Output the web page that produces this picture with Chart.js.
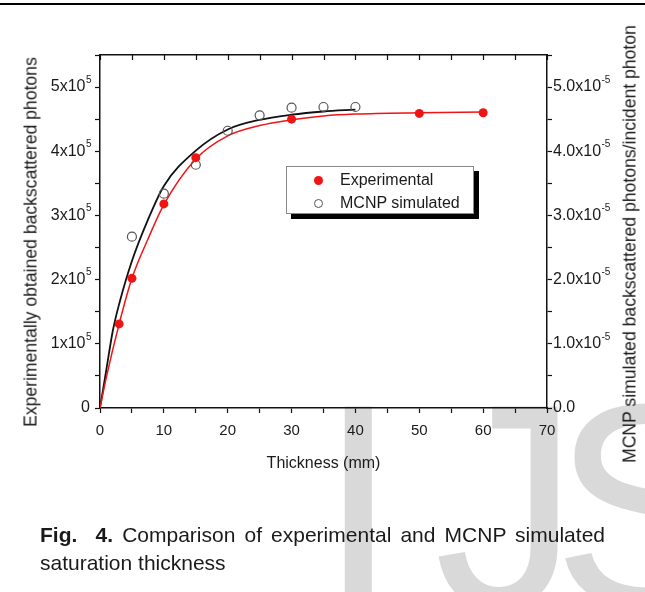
<!DOCTYPE html>
<html>
<head>
<meta charset="utf-8">
<script src="https://cdn.jsdelivr.net/npm/chart.js@4.4.1/dist/chart.umd.min.js"></script>
<style>
  html, body { margin: 0; padding: 0; background: #fff; }
  body { width: 645px; height: 592px; position: relative; overflow: hidden;
         font-family: "Liberation Sans", Arial, sans-serif; color: #1a1a1a; }
  #topRule { position: absolute; left: 0; top: 3px; width: 645px; height: 2px; background: #000; }
  .mark { position: absolute; top: 360px; font-size: 290px; line-height: 1;
          color: #d9d9d9; white-space: nowrap; z-index: 0; }
  #wrap { position: absolute; left: 0; top: 0; width: 645px; height: 592px; z-index: 1; }
  .vtitle { position: absolute; white-space: nowrap; font-size: 17.6px; z-index: 2;
            transform: translate(-50%, -50%) rotate(-90deg); }
  #legend { position: absolute; left: 286px; top: 166px; width: 186px; height: 46px;
            border: 1px solid #888; background: #fff; box-shadow: 5px 5px 0 0 #000; z-index: 3; }
  .item { position: absolute; left: 0; width: 186px; height: 20px; font-size: 16px; line-height: 20px; white-space: nowrap; }
  .dot { position: absolute; width: 9px; height: 9px; border-radius: 50%; box-sizing: border-box; }
  #caption { position: absolute; left: 40px; top: 521px; width: 565px; font-size: 21px;
             line-height: 28px; text-align: justify; z-index: 2; }
</style>
</head>
<body>
<div id="topRule"></div>
<div class="mark" style="left:318px;">I</div>
<div class="mark" style="left:434px;">J</div>
<div class="mark" style="left:552px;">S</div>
<div id="wrap"><canvas id="chart" width="645" height="592"></canvas></div>
<div class="vtitle" style="left:31px; top:242px;">Experimentally obtained backscattered photons</div>
<div class="vtitle" style="left:630px; top:244px;">MCNP simulated backscattered photons/incident photon</div>
<div id="legend"></div>
<div id="caption"><b>Fig.&nbsp; 4.</b> Comparison of experimental and MCNP simulated saturation thickness</div>
<script>
// measured points
const expThickness = [3, 5, 10, 15, 30, 50, 60];
const expCounts = [131000, 202000, 318000, 390000, 450000, 459000, 460000];
const mcnpThickness = [5, 10, 15, 20, 25, 30, 35, 40];
const mcnpRatio = [2.67e-5, 3.34e-5, 3.79e-5, 4.32e-5, 4.56e-5, 4.68e-5, 4.69e-5, 4.69e-5];

// fitted curves
const expFitX = [0, 1, 3, 5, 7.5, 10, 15, 20, 25, 30, 35, 40, 50, 60];
const expFitY = [0, 48000, 131000, 202000, 263000, 317000, 388000, 424000, 440000, 449000, 455000, 458000, 460000, 461000];
const mcnpFitX = [0, 1, 2, 3, 5, 7.5, 10, 15, 20, 25, 30, 35, 40];
const mcnpFitY = [0, 0.6e-5, 1.2e-5, 1.62e-5, 2.29e-5, 2.93e-5, 3.46e-5, 4.01e-5, 4.34e-5, 4.49e-5, 4.57e-5, 4.62e-5, 4.65e-5];

const seriesLabels = ['Experimental', 'MCNP simulated'];
const red = '#f01414';
const grey = '#555';
const ink = '#1a1a1a';
const FONT = '"Liberation Sans", Arial, sans-serif';

const pts = (xs, ys) => xs.map((x, i) => ({ x: x, y: ys[i] }));

Chart.defaults.font.family = FONT;
Chart.defaults.color = ink;

const axisGrid = { display: true, drawOnChartArea: false, drawTicks: true, tickLength: 5, tickColor: '#111', tickWidth: 1.2 };
const axisBorder = { display: true, color: '#111', width: 1.5 };

// y tick labels need a raised exponent, canvas text can't do that by itself
function drawPow(ctx, base, sup, x, y, align) {
  ctx.font = '16px ' + FONT;
  const bw = ctx.measureText(base).width;
  ctx.font = '10px ' + FONT;
  const sw = ctx.measureText(sup).width;
  const left = align === 'right' ? x - bw - sw : x;
  ctx.textAlign = 'left';
  ctx.font = '16px ' + FONT;
  ctx.fillText(base, left, y);
  ctx.font = '10px ' + FONT;
  ctx.fillText(sup, left + bw + 0.5, y - 7);
}

const axisExtras = {
  id: 'axisExtras',
  afterDraw(chart) {
    const { ctx, chartArea, scales } = chart;
    ctx.save();
    // inward ticks on the top frame
    ctx.strokeStyle = '#111';
    ctx.lineWidth = 1.2;
    scales.x.ticks.forEach(t => {
      const px = Math.round(scales.x.getPixelForValue(t.value)) + 0.5;
      ctx.beginPath();
      ctx.moveTo(px, chartArea.top);
      ctx.lineTo(px, chartArea.top + 5);
      ctx.stroke();
    });
    ctx.fillStyle = ink;
    ctx.textBaseline = 'middle';
    scales.y.ticks.forEach(t => {
      const k = Math.round(t.value / 10000);
      if (k % 10) return;
      const py = scales.y.getPixelForValue(t.value);
      if (k === 0) {
        ctx.font = '16px ' + FONT;
        ctx.textAlign = 'right';
        ctx.fillText('0', 90, py);
      } else {
        drawPow(ctx, (k / 10) + 'x10', '5', 91, py, 'right');
      }
    });
    scales.y2.ticks.forEach(t => {
      const k = Math.round(t.value * 1e6);
      if (k % 10) return;
      const py = scales.y2.getPixelForValue(t.value);
      const x0 = scales.y2.left + 6;
      if (k === 0) {
        ctx.font = '16px ' + FONT;
        ctx.textAlign = 'left';
        ctx.fillText('0.0', x0, py);
      } else {
        drawPow(ctx, (k / 10).toFixed(1) + 'x10', '-5', x0, py, 'left');
      }
    });
    ctx.restore();
  }
};

const chart = new Chart(document.getElementById('chart'), {
  type: 'scatter',
  data: {
    datasets: [
      { label: seriesLabels[0], data: pts(expThickness, expCounts), yAxisID: 'y', order: 0,
        pointRadius: 4.5, pointBackgroundColor: red, pointBorderColor: red, pointBorderWidth: 0 },
      { label: seriesLabels[1], data: pts(mcnpThickness, mcnpRatio), yAxisID: 'y2', order: 0,
        pointRadius: 4.5, pointBackgroundColor: 'rgba(0,0,0,0)', pointBorderColor: grey, pointBorderWidth: 1.2 },
      { label: 'exp fit', data: pts(expFitX, expFitY), yAxisID: 'y', order: 1, showLine: true,
        borderColor: red, borderWidth: 1.5, pointRadius: 0, cubicInterpolationMode: 'monotone' },
      { label: 'mcnp fit', data: pts(mcnpFitX, mcnpFitY), yAxisID: 'y2', order: 1, showLine: true,
        borderColor: '#111', borderWidth: 1.8, pointRadius: 0, cubicInterpolationMode: 'monotone' }
    ]
  },
  options: {
    responsive: false,
    animation: false,
    layout: { padding: { top: 55, left: 0, right: 0, bottom: 0 } },
    plugins: { legend: { display: false }, tooltip: { enabled: false } },
    scales: {
      x: {
        type: 'linear', position: 'bottom', min: 0, max: 70,
        ticks: { stepSize: 5, autoSkip: false, maxRotation: 0, padding: 9, font: { size: 15 },
                 callback: v => (v % 10 === 0 ? String(v) : '') },
        grid: axisGrid, border: axisBorder,
        title: { display: true, text: 'Thickness (mm)', font: { size: 16 }, padding: { top: 0, bottom: 119 } },
        afterFit: s => { s.height = 184; }
      },
      x2: {
        type: 'linear', position: 'top', min: 0, max: 70,
        ticks: { display: false, stepSize: 5 },
        grid: { display: true, drawOnChartArea: false, drawTicks: false },
        border: axisBorder,
        afterFit: s => { s.height = 0; }
      },
      y: {
        type: 'linear', position: 'left', min: 0, max: 550000,
        ticks: { stepSize: 50000, autoSkip: false, callback: () => '' },
        grid: axisGrid, border: axisBorder,
        afterFit: s => { s.width = 100; }
      },
      y2: {
        type: 'linear', position: 'right', min: 0, max: 5.5e-5,
        ticks: { stepSize: 0.5e-5, autoSkip: false, callback: () => '' },
        grid: axisGrid, border: axisBorder,
        afterFit: s => { s.width = 98; }
      }
    }
  },
  plugins: [axisExtras]
});

// legend built from the two point datasets
const legend = document.getElementById('legend');
chart.data.datasets.slice(0, 2).forEach((ds, i) => {
  const row = document.createElement('div');
  row.className = 'item';
  row.style.top = (3 + i * 23) + 'px';
  const dot = document.createElement('span');
  dot.className = 'dot';
  dot.style.left = (31 - 4.5) + 'px';
  dot.style.top = '5.5px';
  if (i === 0) { dot.style.background = ds.pointBackgroundColor; }
  else { dot.style.border = '1.2px solid ' + ds.pointBorderColor; }
  const txt = document.createElement('span');
  txt.style.position = 'absolute';
  txt.style.left = '53px';
  txt.textContent = ds.label;
  row.appendChild(dot);
  row.appendChild(txt);
  legend.appendChild(row);
});
</script>
</body>
</html>
